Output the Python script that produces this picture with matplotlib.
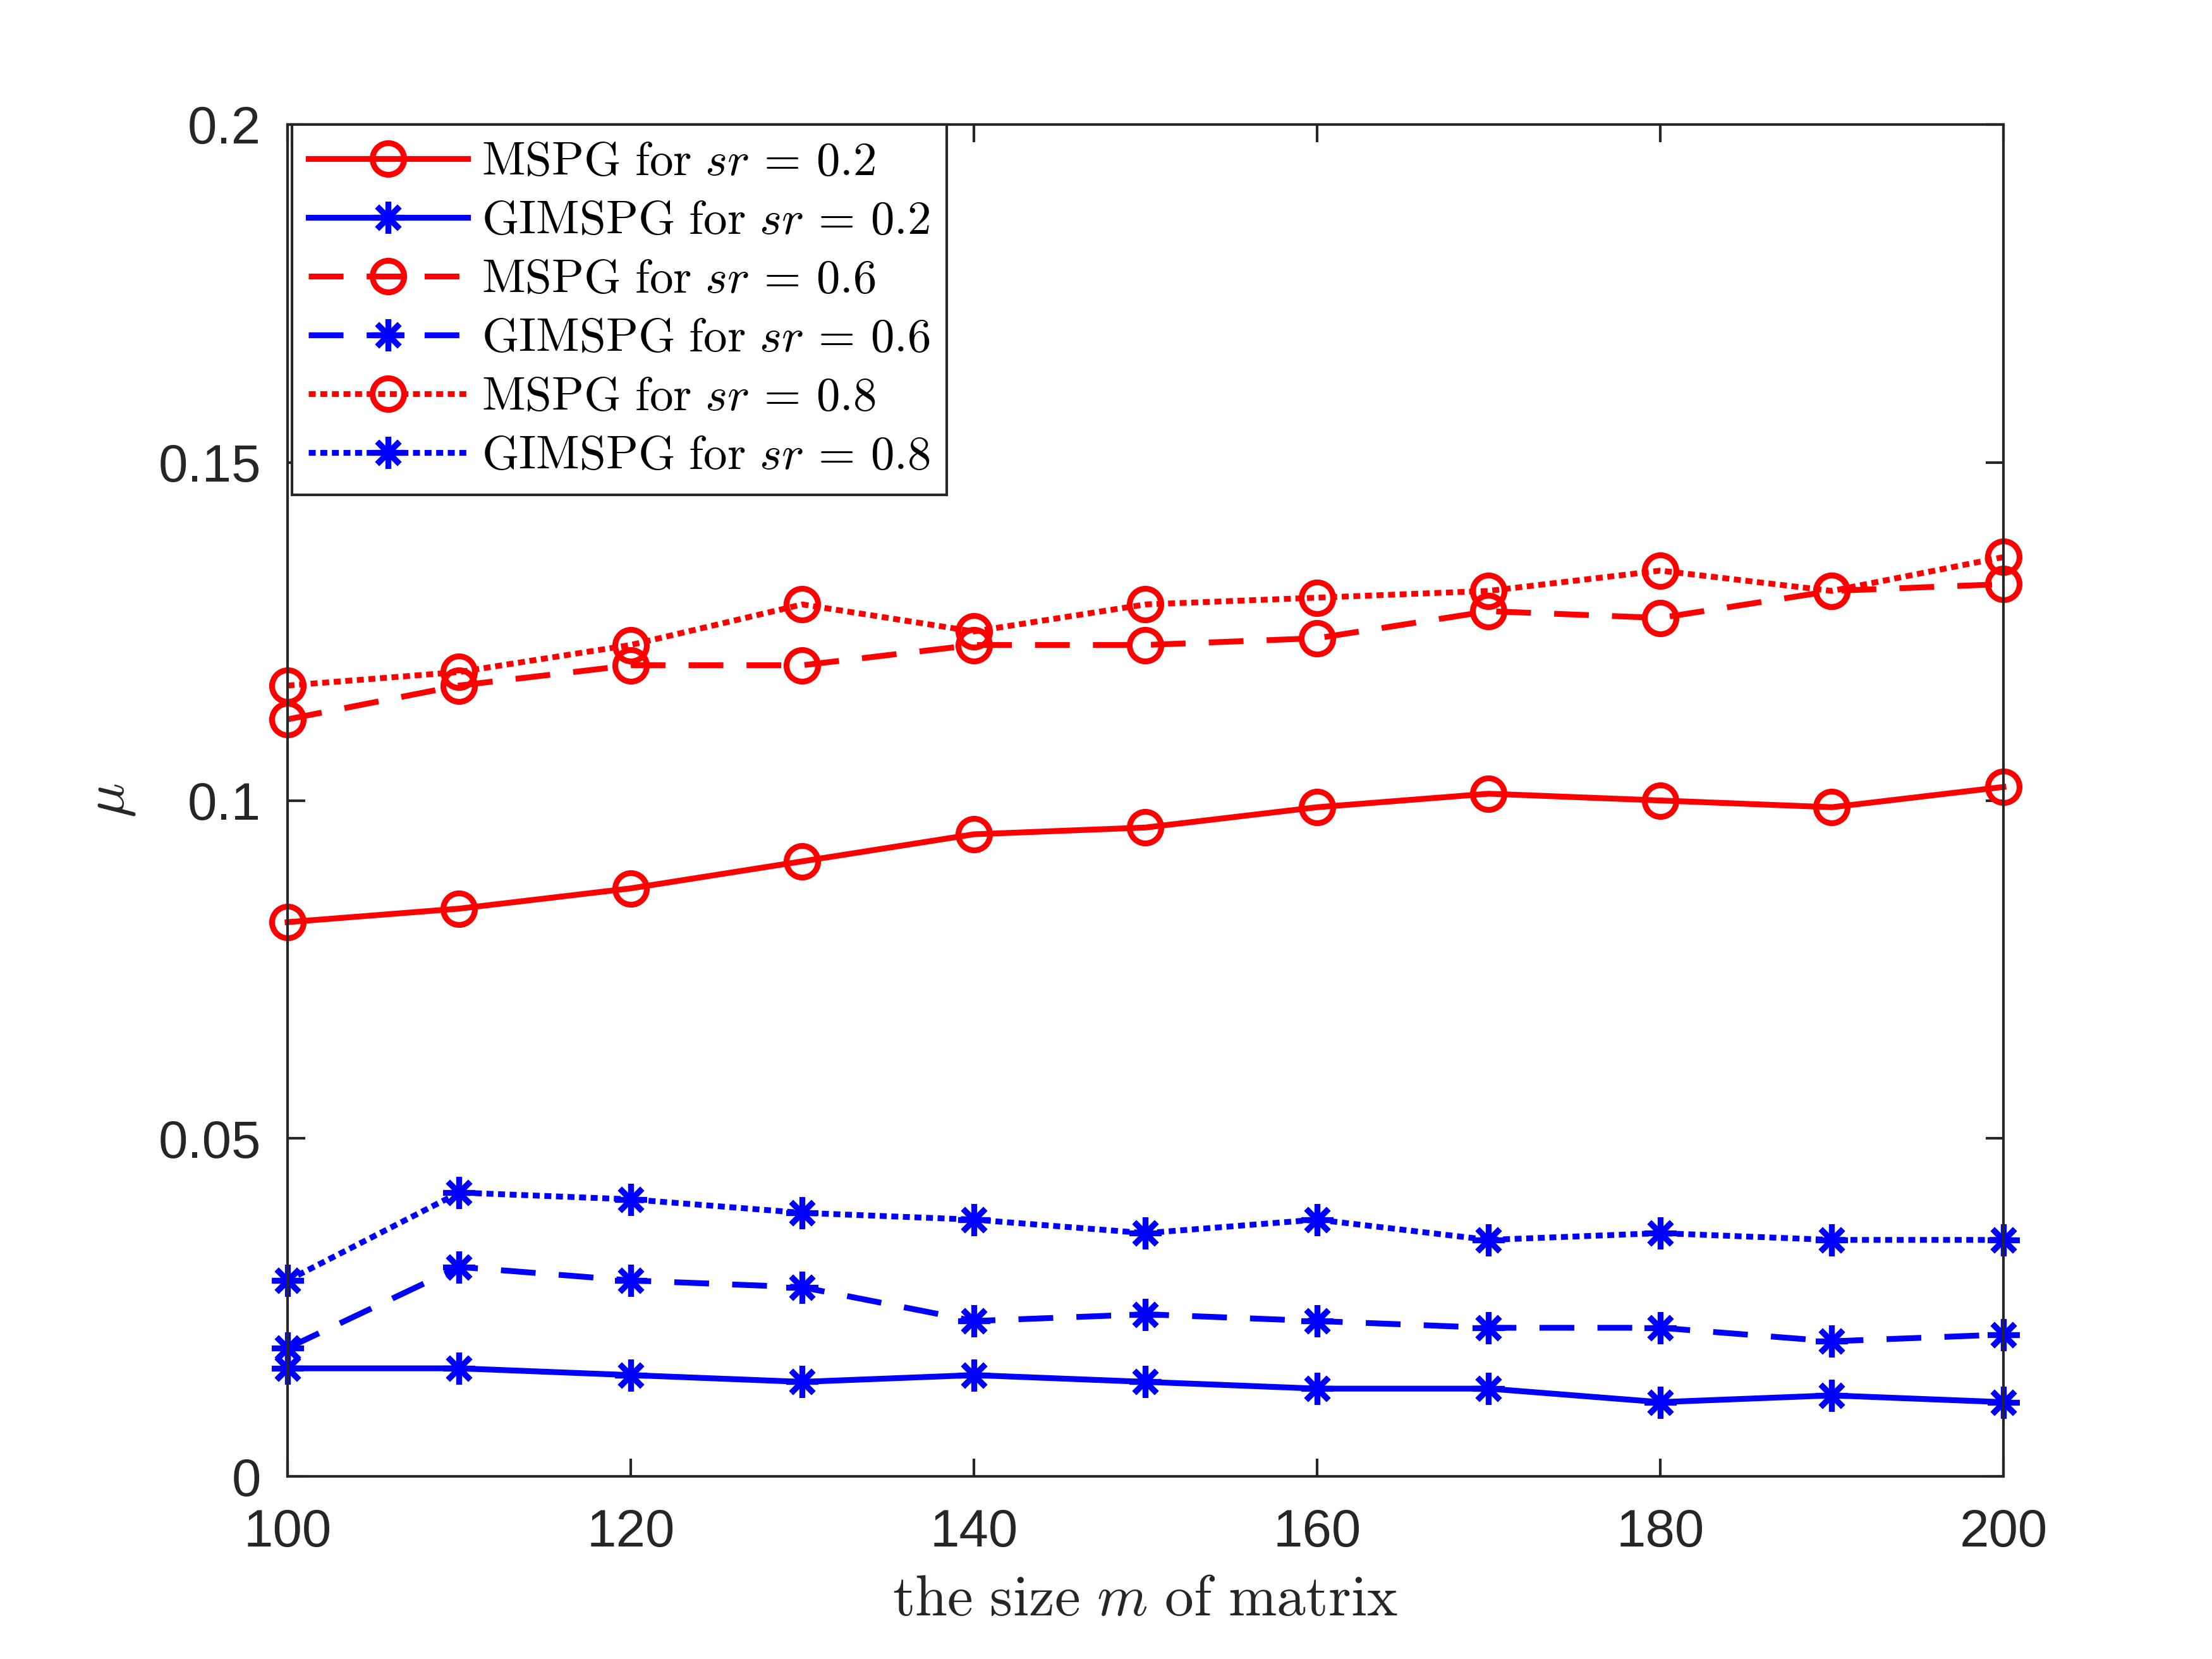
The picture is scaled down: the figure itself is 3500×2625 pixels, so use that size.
import matplotlib
matplotlib.use("Agg")
import matplotlib.pyplot as plt

plt.rcParams['font.family'] = ['Liberation Sans', 'DejaVu Sans']
plt.rcParams['mathtext.fontset'] = 'cm'

m_size = [100, 110, 120, 130, 140, 150, 160, 170, 180, 190, 200]

mspg_02 = [0.082, 0.084, 0.087, 0.091, 0.095, 0.096, 0.099, 0.101, 0.100, 0.099, 0.102]
gimspg_02 = [0.016, 0.016, 0.015, 0.014, 0.015, 0.014, 0.013, 0.013, 0.011, 0.012, 0.011]
mspg_06 = [0.112, 0.117, 0.120, 0.120, 0.123, 0.123, 0.124, 0.128, 0.127, 0.131, 0.132]
gimspg_06 = [0.019, 0.031, 0.029, 0.028, 0.023, 0.024, 0.023, 0.022, 0.022, 0.020, 0.021]
mspg_08 = [0.117, 0.119, 0.123, 0.129, 0.125, 0.129, 0.130, 0.131, 0.134, 0.131, 0.136]
gimspg_08 = [0.029, 0.042, 0.041, 0.039, 0.038, 0.036, 0.038, 0.035, 0.036, 0.035, 0.035]

labels = [r'$\mathrm{MSPG\ for\ }sr\,=\,0.2$',
          r'$\mathrm{GIMSPG\ for\ }sr\,=\,0.2$',
          r'$\mathrm{MSPG\ for\ }sr\,=\,0.6$',
          r'$\mathrm{GIMSPG\ for\ }sr\,=\,0.6$',
          r'$\mathrm{MSPG\ for\ }sr\,=\,0.8$',
          r'$\mathrm{GIMSPG\ for\ }sr\,=\,0.8$']

x_ticks = [100, 120, 140, 160, 180, 200]
y_ticks = [0, 0.05, 0.1, 0.15, 0.2]
y_ticklabels = ['0', '0.05', '0.1', '0.15', '0.2']

axcol = (0.15, 0.15, 0.15)
lw = 1.1
dashed = (0, (6, 4))
dotted = (0, (1.2, 0.8))
asterisk = (8, 2, 0)

fig = plt.figure(figsize=(3500 / 600, 2625 / 600), dpi=600)
ax = fig.add_axes([0.13, 0.11, 0.7757, 0.815])

series = [
    (mspg_02, 'red', '-', 'o'),
    (gimspg_02, 'blue', '-', asterisk),
    (mspg_06, 'red', dashed, 'o'),
    (gimspg_06, 'blue', dashed, asterisk),
    (mspg_08, 'red', dotted, 'o'),
    (gimspg_08, 'blue', dotted, asterisk),
]

for (vals, col, ls, mk), lab in zip(series, labels):
    ax.plot(m_size, vals, color=col, linestyle=ls, linewidth=lw,
            marker=mk, markersize=6, markeredgewidth=lw,
            markerfacecolor='none', markeredgecolor=col,
            label=lab, clip_on=False)

ax.set_xlim(100, 200)
ax.set_ylim(0, 0.2)
ax.set_xticks(x_ticks)
ax.set_yticks(y_ticks)
ax.set_yticklabels(y_ticklabels)

for sp in ax.spines.values():
    sp.set_color(axcol)
    sp.set_linewidth(0.5)
ax.tick_params(direction='in', length=3.4, width=0.5, color=axcol,
               labelcolor=axcol, labelsize=10, top=True, right=True)
ax.tick_params(axis='x', pad=6)
ax.tick_params(axis='y', pad=5)

ax.set_xlabel(r'$\mathrm{the\ size\ }m\mathrm{\ of\ matrix}$', fontsize=11,
              color=axcol, labelpad=3)
ax.set_ylabel(r'$\mu$', fontsize=11, color=axcol, labelpad=4)

leg = ax.legend(loc='upper left', bbox_to_anchor=(0.0026, 1.0),
                borderaxespad=0, fontsize=9, handlelength=3.35,
                handletextpad=0.3, labelspacing=0.32, borderpad=0.35,
                fancybox=False, framealpha=1)
leg.get_frame().set_edgecolor(axcol)
leg.get_frame().set_linewidth(0.5)
for t in leg.get_texts():
    t.set_color('black')

fig.savefig('out.png', dpi=600, facecolor='white')
